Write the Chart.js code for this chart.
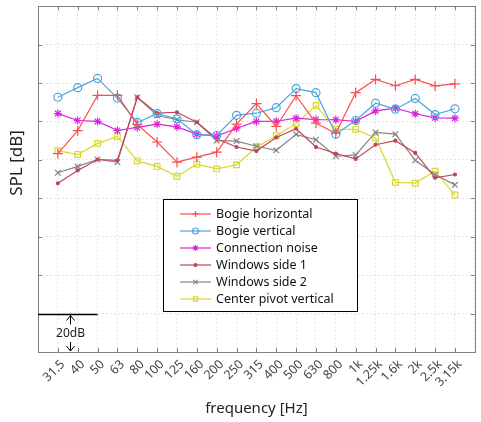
<!DOCTYPE html>
<html>
<head>
<meta charset="utf-8">
<script src="https://cdn.jsdelivr.net/npm/chart.js@4/dist/chart.umd.min.js"></script>
<style>
  html, body { margin: 0; padding: 0; background: #fff; }
</style>
</head>
<body>
<canvas id="spl-chart" width="481" height="422"></canvas>
<script>
// 1/3 octave bands
const freqLabels = ['31.5', '40', '50', '63', '80', '100', '125', '160', '200', '250', '315',
  '400', '500', '630', '800', '1k', '1.25k', '1.6k', '2k', '2.5k', '3.15k'];

// SPL values in dB (one grid step = 20 dB)
const bogieHorizontal = [103.3, 115.2, 133.6, 133.6, 118.5, 109.3, 98.8, 101.4, 104.0, 118.6, 129.3,
  117.4, 133.4, 119.1, 113.9, 135.0, 141.9, 138.6, 141.9, 138.5, 139.6];
const bogieVertical = [132.6, 137.6, 142.4, 132.2, 119.5, 124.1, 121.4, 113.1, 112.7, 123.2, 124.3,
  127.2, 137.1, 135.0, 113.4, 120.5, 129.5, 126.4, 132.0, 123.6, 126.6];
const connectionNoise = [124.1, 120.5, 120.0, 115.3, 116.9, 118.6, 117.2, 113.4, 112.4, 116.5, 120.0,
  120.1, 121.7, 121.0, 120.9, 120.1, 125.5, 126.9, 124.0, 121.9, 121.7];
const windowsSide1 = [87.8, 94.5, 100.2, 99.8, 132.6, 124.3, 124.8, 119.6, 111.0, 106.7, 104.6,
  111.7, 116.2, 106.7, 103.3, 100.5, 107.9, 110.0, 103.6, 90.7, 92.4];
const windowsSide2 = [93.3, 96.6, 100.2, 98.8, 132.6, 123.1, 120.9, 119.6, 110.0, 109.8, 107.1,
  105.0, 113.3, 110.5, 101.9, 102.6, 114.3, 113.4, 99.8, 92.4, 87.0];
const centerPivot = [104.8, 102.8, 108.6, 112.2, 99.5, 96.6, 91.5, 97.8, 95.3, 97.4, 106.7,
  112.6, 119.0, 128.3, 116.0, 115.9, 111.4, 88.3, 87.9, 94.1, 81.7];

const FONT = 'Noto Sans';

// x position i+1 so that there is one empty band at each end
function toPoints(values) {
  return values.map((v, i) => ({ x: i + 1, y: v }));
}

function makeSet(label, values, color, style, radius) {
  return {
    label: label,
    data: toPoints(values),
    borderColor: color,
    backgroundColor: color,
    borderWidth: 1.2,
    pointStyle: style,
    pointRadius: radius,
    pointBorderColor: color,
    pointBackgroundColor: style === 'circle' && radius < 2 ? color : 'rgba(0,0,0,0)',
    pointBorderWidth: 1.2,
    tension: 0
  };
}

const datasets = [
  makeSet('Bogie horizontal', bogieHorizontal, '#ff4d4d', 'cross', 5),
  makeSet('Bogie vertical', bogieVertical, '#4aa6e0', 'circle', 4),
  makeSet('Connection noise', connectionNoise, '#dd22dd', 'star', 4),
  makeSet('Windows side 1', windowsSide1, '#bf4656', 'circle', 1.5),
  makeSet('Windows side 2', windowsSide2, '#858585', 'crossRot', 4),
  makeSet('Center pivot vertical', centerPivot, '#d9d92e', 'rect', 4)
];

// frame, inner ticks, 20dB marker, legend box and axis titles
const decorPlugin = {
  id: 'decor',
  afterDraw(chart) {
    const { ctx, chartArea: a, scales: { x, y } } = chart;
    ctx.save();

    ctx.strokeStyle = '#808080';
    ctx.lineWidth = 1;
    ctx.strokeRect(Math.round(a.left) + 0.5, Math.round(a.top) + 0.5,
      Math.round(a.right - a.left), Math.round(a.bottom - a.top));

    ctx.beginPath();
    for (let i = 1; i <= freqLabels.length; i++) {
      const px = Math.round(x.getPixelForValue(i)) + 0.5;
      ctx.moveTo(px, a.top); ctx.lineTo(px, a.top + 4);
      ctx.moveTo(px, a.bottom); ctx.lineTo(px, a.bottom - 4);
    }
    for (let v = 20; v < 180; v += 20) {
      const py = Math.round(y.getPixelForValue(v)) + 0.5;
      ctx.moveTo(a.left, py); ctx.lineTo(a.left + 4, py);
      ctx.moveTo(a.right, py); ctx.lineTo(a.right - 4, py);
    }
    ctx.stroke();

    // 20 dB scale marker
    const y20 = Math.round(y.getPixelForValue(20)) + 0.5;
    const y0 = y.getPixelForValue(0);
    const ax = Math.round(x.getPixelForValue(1.6)) + 0.5;
    ctx.strokeStyle = '#000';
    ctx.lineWidth = 1.3;
    ctx.beginPath();
    ctx.moveTo(x.getPixelForValue(0), y20);
    ctx.lineTo(x.getPixelForValue(3), y20);
    ctx.stroke();
    ctx.lineWidth = 1;
    ctx.beginPath();
    ctx.moveTo(ax, y20 + 1); ctx.lineTo(ax, y20 + 10);
    ctx.moveTo(ax - 4, y20 + 6); ctx.lineTo(ax, y20 + 1); ctx.lineTo(ax + 4, y20 + 6);
    ctx.moveTo(ax, y0 - 10); ctx.lineTo(ax, y0 - 1);
    ctx.moveTo(ax - 4, y0 - 6); ctx.lineTo(ax, y0 - 1); ctx.lineTo(ax + 4, y0 - 6);
    ctx.stroke();
    ctx.fillStyle = '#222';
    ctx.font = '12px "' + FONT + '"';
    ctx.textAlign = 'center';
    ctx.textBaseline = 'middle';
    ctx.fillText('20dB', ax, (y20 + y0) / 2);

    // legend
    const lx = 163.5, ly = 199.5, lw = 194, lh = 112;
    ctx.fillStyle = '#fff';
    ctx.fillRect(lx, ly, lw, lh);
    ctx.strokeStyle = '#000';
    ctx.lineWidth = 1;
    ctx.strokeRect(lx, ly, lw, lh);
    ctx.font = '12.5px "' + FONT + '"';
    ctx.textAlign = 'left';
    chart.data.datasets.forEach((ds, i) => {
      const ry = 214 + i * 17;
      ctx.strokeStyle = ds.borderColor;
      ctx.lineWidth = 1.2;
      ctx.beginPath();
      ctx.moveTo(180, ry); ctx.lineTo(211, ry);
      ctx.stroke();
      ctx.fillStyle = ds.pointBackgroundColor;
      Chart.helpers.drawPoint(ctx, {
        pointStyle: ds.pointStyle,
        radius: Math.min(ds.pointRadius, 3),
        borderWidth: 1
      }, 195.5, ry);
      ctx.fillStyle = '#111';
      ctx.fillText(ds.label, 216, ry);
    });

    // axis titles
    ctx.fillStyle = '#222';
    ctx.textAlign = 'center';
    ctx.font = '15px "' + FONT + '"';
    ctx.fillText('frequency [Hz]', (a.left + a.right) / 2, 409);
    ctx.translate(17, 163);
    ctx.rotate(-Math.PI / 2);
    ctx.font = '17px "' + FONT + '"';
    ctx.fillText('SPL [dB]', 0, 0);

    ctx.restore();
  }
};

new Chart(document.getElementById('spl-chart'), {
  type: 'line',
  data: { datasets: datasets },
  options: {
    responsive: false,
    animation: false,
    layout: { padding: { top: 2, right: 5, left: 0, bottom: 0 } },
    plugins: {
      legend: { display: false },
      tooltip: { enabled: false }
    },
    scales: {
      x: {
        type: 'linear',
        min: 0,
        max: freqLabels.length + 1,
        afterFit: scale => {
          scale.height = 70;
          scale.paddingLeft = 0;
          scale.paddingRight = 0;
        },
        afterBuildTicks: scale => {
          scale.ticks = [];
          for (let i = 0; i <= freqLabels.length + 1; i++) scale.ticks.push({ value: i });
        },
        grid: { color: '#e4e4e4', drawTicks: false },
        border: { display: false, dash: [2, 2] },
        ticks: {
          autoSkip: false,
          minRotation: 45,
          maxRotation: 45,
          padding: 5,
          labelOffset: 5,
          color: '#444',
          font: { family: FONT, size: 12.5 },
          callback: v => freqLabels[v - 1] || ''
        }
      },
      y: {
        min: 0,
        max: 180,
        afterFit: scale => {
          scale.width = 38;
          scale.paddingTop = 0;
          scale.paddingBottom = 0;
        },
        grid: { color: '#e4e4e4', drawTicks: false },
        border: { display: false, dash: [2, 2] },
        ticks: { stepSize: 20, display: false }
      }
    }
  },
  plugins: [decorPlugin]
});
</script>
</body>
</html>
